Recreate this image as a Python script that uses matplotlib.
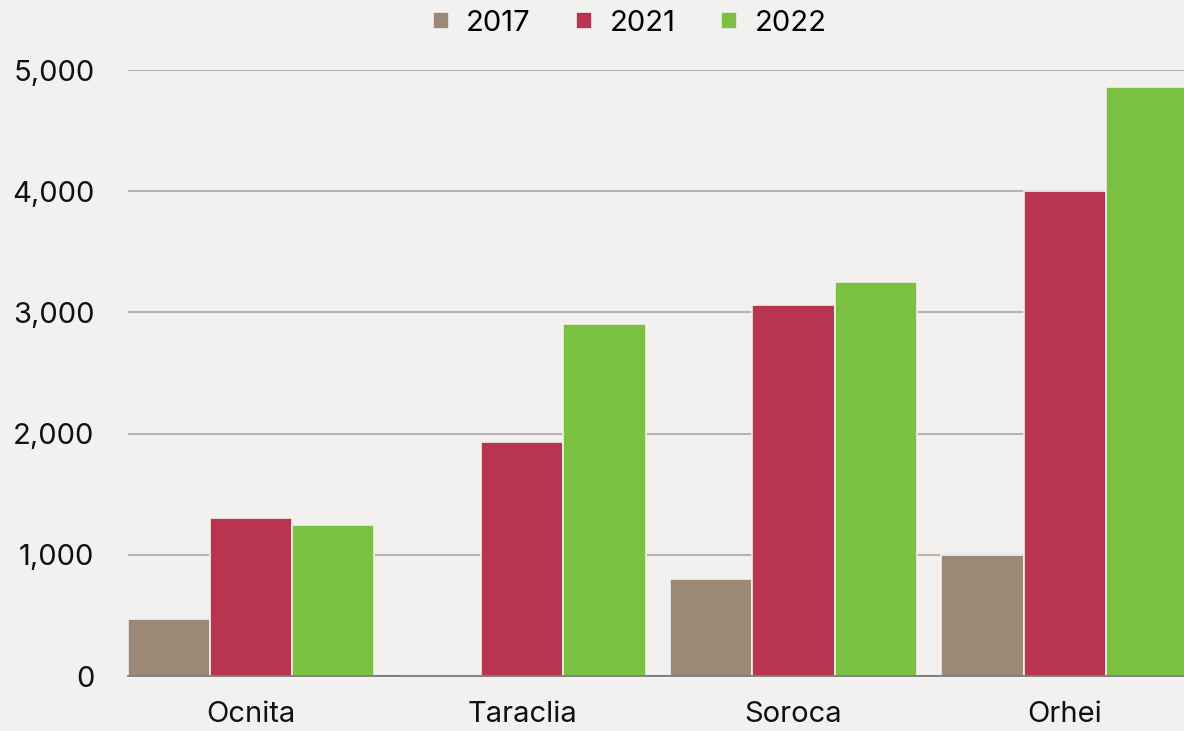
import numpy as np
import matplotlib.pyplot as plt
from matplotlib.ticker import FuncFormatter

plt.rcParams['font.family'] = ['Inter', 'DejaVu Sans']

# Datos
categorias = ['Ocnita', 'Taraclia', 'Soroca', 'Orhei']
anios = ['2017', '2021', '2022']
v2017 = [470, 0, 800, 1000]
v2021 = [1305, 1930, 3060, 4000]
v2022 = [1250, 2905, 3250, 4860]
colores = ['#9b8877', '#b9354f', '#7ac142']
fondo = '#f2f1ef'

fig = plt.figure(figsize=(11.84, 7.31), dpi=100, facecolor=fondo)
ax = fig.add_axes([0.108, 0.0752, 0.892, 0.829], facecolor=fondo)

x = np.arange(len(categorias))
ancho = 0.303
for i, (serie, c, a) in enumerate(zip([v2017, v2021, v2022], colores, anios)):
    ax.bar(x + (i - 1) * ancho, serie, ancho, color=c, label=a,
           edgecolor=fondo, linewidth=1.2, zorder=3)

ax.set_xlim(-0.455, 3.44)
ax.set_ylim(0, 5000)
ax.set_yticks([0, 1000, 2000, 3000, 4000, 5000])
ax.yaxis.set_major_formatter(FuncFormatter(lambda v, p: f'{int(v):,}'))
ax.set_xticks(x)
ax.set_xticklabels(categorias)

ax.grid(axis='y', color='#b5b4b2', linewidth=1.5, zorder=0)
for s in ['top', 'right', 'left']:
    ax.spines[s].set_visible(False)
ax.spines['bottom'].set_color('#6f6f6f')
ax.spines['bottom'].set_linewidth(1.2)
ax.spines['bottom'].set_zorder(4)
ax.tick_params(axis='both', length=0, labelsize=21, colors='#111111')
ax.tick_params(axis='y', pad=24)
ax.tick_params(axis='x', pad=18)

ax.legend(loc='lower center', bbox_to_anchor=(0.475, 1.055), ncol=3, frameon=False,
          fontsize=21, handlelength=0.55, handleheight=0.55, handletextpad=0.6,
          columnspacing=1.55, borderaxespad=0.0, borderpad=0.0)

plt.savefig('out.png', dpi=100, facecolor=fondo)
